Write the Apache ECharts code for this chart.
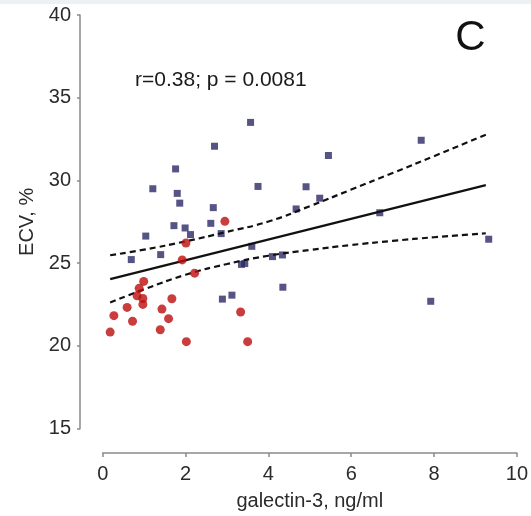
<!DOCTYPE html>
<html>
<head>
<meta charset="utf-8">
<style>html,body{margin:0;padding:0;background:#fff;}#c{width:531px;height:516px;}</style>
<script src="https://cdn.jsdelivr.net/npm/echarts@6/dist/echarts.min.js"></script>
</head>
<body>
<div id="c"></div>
<script>
// ---- data ----
var blueX = [3.57, 2.70, 1.76, 1.21, 1.80, 1.86, 2.67, 3.75, 4.67, 1.72, 1.99, 2.12, 2.61, 2.86, 1.04, 3.60,
             5.45, 7.69, 4.91, 5.24, 6.69, 9.32, 4.34, 4.10, 0.69, 1.40, 3.35, 3.43, 2.89, 3.12, 4.35, 7.92];
var blueY = [33.51, 32.07, 30.70, 29.50, 29.22, 28.63, 28.36, 29.64, 28.28, 27.27, 27.13, 26.73, 27.41, 26.79, 26.64, 26.02,
             31.51, 32.43, 29.62, 28.93, 28.05, 26.45, 25.50, 25.40, 25.22, 25.52, 24.93, 24.98, 22.83, 23.07, 23.55, 22.70];
var redX = [2.95, 2.01, 1.92, 2.22, 0.99, 0.88, 0.83, 0.97, 0.97, 1.67, 0.59, 0.27, 1.43, 1.59, 0.72, 0.18, 1.39, 2.02, 3.33, 3.50];
var redY = [27.53, 26.22, 25.20, 24.40, 23.90, 23.48, 23.03, 22.87, 22.51, 22.85, 22.33, 21.83, 22.23, 21.65, 21.49, 20.84, 20.98, 20.26, 22.05, 20.26];
var fitX = [0.18, 9.25];
var fitY = [24.04, 29.72];
var bandX = [0.18, 1, 2, 3, 4, 5, 6, 7, 8, 9.25];
var upperY = [25.48, 25.82, 26.32, 26.90, 27.52, 28.45, 29.45, 30.45, 31.47, 32.77];
var lowerY = [22.63, 23.42, 24.30, 24.95, 25.45, 25.80, 26.10, 26.35, 26.57, 26.81];
var xTicks = [0, 2, 4, 6, 8, 10];
var yTicks = [15, 20, 25, 30, 35, 40];
var statText = 'r=0.38; p = 0.0081';
var panelLabel = 'C';

function pairs(xs, ys) { return xs.map(function (x, i) { return [x, ys[i]]; }); }

var font = 'Liberation Sans, Arial, sans-serif';
var chart = echarts.init(document.getElementById('c'), null, {renderer: 'canvas'});
chart.setOption({
  animation: false,
  backgroundColor: '#ffffff',
  grid: {left: 102.7, right: 13.3, top: 15, bottom: 86, containLabel: false},
  xAxis: {
    type: 'value', min: 0, max: 10, interval: 2, offset: 24.3,
    name: 'galectin-3, ng/ml', nameLocation: 'middle', nameGap: 38,
    nameTextStyle: {fontFamily: font, fontSize: 20, color: '#2b2b2b'},
    axisLine: {show: true, onZero: false, lineStyle: {color: '#8a8a8a', width: 1.5}},
    axisTick: {show: true, length: 4, lineStyle: {color: '#8a8a8a', width: 1.5}},
    axisLabel: {fontFamily: font, fontSize: 20, color: '#2b2b2b', margin: 11,
      formatter: function (v) { return xTicks.indexOf(v) >= 0 ? String(v) : ''; }},
    splitLine: {show: false}
  },
  yAxis: {
    type: 'value', min: 15, max: 40, interval: 5, offset: 22.7,
    name: 'ECV, %', nameLocation: 'middle', nameGap: 42,
    nameTextStyle: {fontFamily: font, fontSize: 20, color: '#2b2b2b'},
    axisLine: {show: true, onZero: false, lineStyle: {color: '#8a8a8a', width: 1.5}},
    axisTick: {show: true, length: 3, lineStyle: {color: '#8a8a8a', width: 1.5}},
    axisLabel: {fontFamily: font, fontSize: 20, color: '#2b2b2b', margin: 9,
      formatter: function (v) { return yTicks.indexOf(v) >= 0 ? String(v) : ''; }},
    splitLine: {show: false}
  },
  graphic: [
    {type: 'rect', shape: {x: 0, y: 0, width: 531, height: 4}, style: {fill: '#eef1f4'}, silent: true},
    {type: 'text', x: 135, y: 80, style: {text: statText, font: '21px ' + font, fill: '#1a1a1a', textVerticalAlign: 'middle', textAlign: 'left'}},
    {type: 'text', x: 470.5, y: 38, style: {text: panelLabel, font: '42px ' + font, fill: '#111', textVerticalAlign: 'middle', textAlign: 'center'}}
  ],
  series: [
    {type: 'line', data: pairs(fitX, fitY), symbol: 'none', lineStyle: {color: '#111', width: 2.2}, z: 3},
    {type: 'line', data: pairs(bandX, upperY), symbol: 'none', smooth: true, lineStyle: {color: '#111', width: 2.2, type: [6, 4]}, z: 3},
    {type: 'line', data: pairs(bandX, lowerY), symbol: 'none', smooth: true, lineStyle: {color: '#111', width: 2.2, type: [6, 4]}, z: 3},
    {type: 'scatter', data: pairs(blueX, blueY), symbol: 'rect', symbolSize: 7, itemStyle: {color: '#2a2966'}, z: 2},
    {type: 'scatter', data: pairs(redX, redY), symbol: 'circle', symbolSize: 9, itemStyle: {color: '#bb0d0d'}, z: 4}
  ]
});
</script>
</body>
</html>
